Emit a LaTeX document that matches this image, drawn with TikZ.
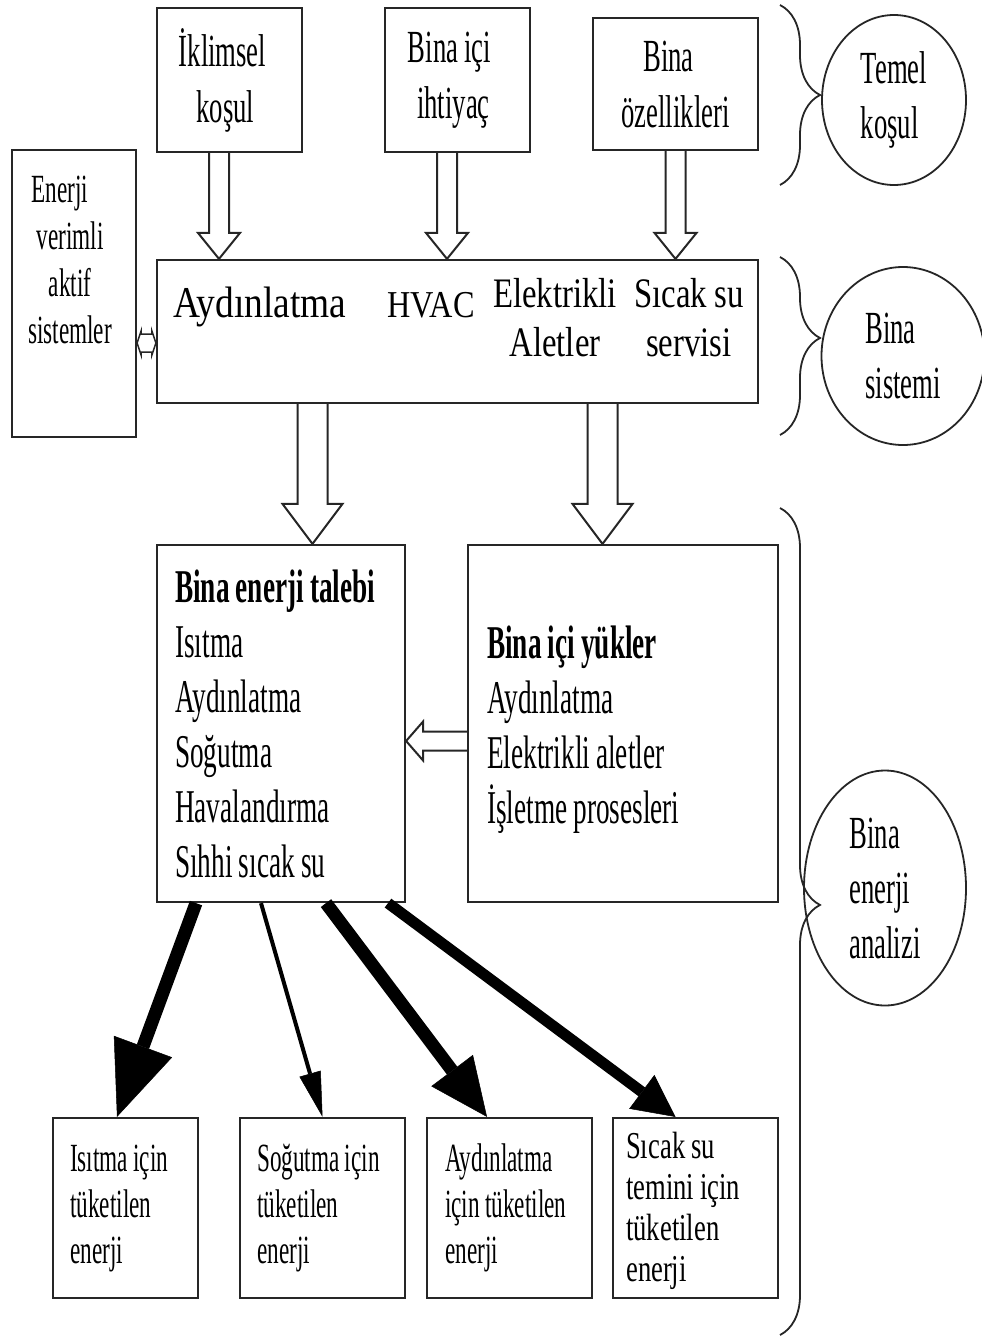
\documentclass[tikz,border=0pt]{standalone}
\usepackage{fontspec}
\setmainfont{Liberation Serif}
\newfontfamily\narrowfont[FakeStretch=0.58, WordSpace=0.9]{Liberation Serif}
\newfontfamily\midfont[FakeStretch=0.78, WordSpace=0.85]{Liberation Serif}
\newfontfamily\widefont[FakeStretch=0.85, WordSpace=0.9]{Liberation Serif}
\newfontfamily\boxfont[FakeStretch=0.7, WordSpace=0.9]{Liberation Serif}
\usetikzlibrary{arrows.meta, calc, shapes.geometric, decorations.pathreplacing}

\tikzset{
  box/.style={draw=black!85, line width=2.2pt, inner sep=0pt, align=center},
  toptext/.style={font=\narrowfont\fontsize{46}{56}\selectfont},
  lefttext/.style={anchor=west, inner sep=0pt, align=left},
  listtext/.style={lefttext, font=\narrowfont\fontsize{47}{55}\selectfont},
  endtext/.style={lefttext, font=\narrowfont\fontsize{40}{46}\selectfont},
  bubble/.style={ellipse, draw=black!85, line width=1.8pt, inner sep=0pt, align=left, font=\narrowfont\fontsize{46}{55}\selectfont},
  hollow/.style={draw=black!85, line width=2pt, fill=white},
  curly/.style={draw=black!85, line width=1.8pt, decorate, decoration={brace, amplitude=40pt, aspect=#1}},
  curly/.default=0.5
}

\newcommand{\hollowdown}[5]{\draw[hollow] let \p1=#1, \p2=#2 in
  (\x1-#3,\y1) -- (\x1-#3,\y2+#5) -- (\x1-#4,\y2+#5) -- (\x1,\y2)
  -- (\x1+#4,\y2+#5) -- (\x1+#3,\y2+#5) -- (\x1+#3,\y1);}
\newcommand{\hollowleft}[5]{\draw[hollow] let \p1=#1, \p2=#2 in
  (\x1,\y1+#3) -- (\x2+#5,\y1+#3) -- (\x2+#5,\y1+#4) -- (\x2,\y1)
  -- (\x2+#5,\y1-#4) -- (\x2+#5,\y1-#3) -- (\x1,\y1-#3);}

\begin{document}
\begin{tikzpicture}[x=1pt, y=-1pt]
\useasboundingbox (0,0) rectangle (982,1338);

\node[box, toptext, minimum width=145pt, minimum height=144pt] (klim) at (229.5,80) {İklimsel\hspace*{14pt}\\koşul\hspace*{8pt}};
\node[box, toptext, minimum width=145pt, minimum height=144pt] (ihtiyac) at (457.5,80) {Bina içi\hspace*{16pt}\\ihtiyaç\hspace*{8pt}};
\node[box, toptext, minimum width=165pt, minimum height=132pt] (ozellik) at (675.5,84) {Bina\hspace*{14pt}\\özellikleri};

\node[box, minimum width=124pt, minimum height=287pt] (ener) at (74,293.5) {};
\node[inner sep=0pt, align=center, font=\narrowfont\fontsize{40}{47}\selectfont] (enertext) at (70,260) {Enerji\hspace*{20pt}\\verimli\hspace*{8pt}\\aktif\\sistemler};

\node[box, minimum width=601pt, minimum height=143pt] (sys) at (457.5,331.5) {};
\node[anchor=base west, inner sep=0pt, font=\widefont\fontsize{44}{50}\selectfont] (aydsys) at (173,317) {Aydınlatma};
\node[anchor=base west, inner sep=0pt, font=\widefont\fontsize{38}{46}\selectfont] (hvac) at (387,317) {HVAC};
\node[inner sep=0pt, align=center, font=\midfont\fontsize{42}{49}\selectfont] (elek) at (555,318) {Elektrikli\\Aletler};
\node[inner sep=0pt, align=center, font=\midfont\fontsize{42}{49}\selectfont] (sicaksu) at (689,318) {Sıcak su\\servisi};

\node[box, minimum width=248pt, minimum height=357pt] (talep) at (281,723.5) {};
\node[listtext] (taleptext) at (175,724) {\textbf{Bina enerji talebi}\\Isıtma\\Aydınlatma\\Soğutma\\Havalandırma\\Sıhhi sıcak su};
\node[box, minimum width=310pt, minimum height=357pt] (yuk) at (623,723.5) {};
\node[listtext] (yuktext) at (487,730) {\textbf{Bina içi yükler}\\Aydınlatma\\Elektrikli aletler\\İşletme prosesleri};

\node[box, minimum width=145pt, minimum height=180pt] (isit) at (125.5,1208) {};
\node[endtext] (isittext) at (70,1208) {Isıtma için\\tüketilen\\enerji};
\node[box, minimum width=165pt, minimum height=180pt] (sog) at (322.5,1208) {};
\node[endtext] (sogtext) at (257,1208) {Soğutma için\\tüketilen\\enerji};
\node[box, minimum width=165pt, minimum height=180pt] (aydbox) at (509.5,1208) {};
\node[endtext] (aydtext) at (445,1208) {Aydınlatma\\için tüketilen\\enerji};
\node[box, minimum width=165pt, minimum height=180pt] (sicak) at (695.5,1208) {};
\node[lefttext, font=\boxfont\fontsize{38}{41}\selectfont] (sicaktext) at (626,1211) {Sıcak su\\temini için\\tüketilen\\enerji};

\node[bubble, minimum width=144pt, minimum height=170pt] (temel) at (894,100) {Temel\\koşul};
\node[bubble, minimum width=163pt, minimum height=178pt] (binasis) at (903,356) {Bina\hspace*{8pt}\\sistemi};
\node[bubble, minimum width=162pt, minimum height=235pt] (analiz) at (885,888) {Bina\\enerji\\analizi};

\coordinate (c1a) at (780,5);
\coordinate (c1b) at (780,185);
\coordinate (c2a) at (780,257);
\coordinate (c2b) at (780,435);
\coordinate (c3a) at (780,508);
\coordinate (c3b) at (780,1335);
\draw[curly] (c1a) -- (c1b);
\draw[curly=0.455] (c2a) -- (c2b);
\draw[curly=0.48] (c3a) -- (c3b);

\foreach \src/\dx in {klim/-10.5, ihtiyac/-10.5, ozellik/0}
  \hollowdown{($(\src.south)+(\dx,0)$)}{(sys.north)}{10pt}{21pt}{26pt};
\hollowdown{($(sys.south)+(-145,0)$)}{(talep.north)}{15pt}{30pt}{40pt}
\hollowdown{($(sys.south)+(145,0)$)}{(yuk.north)}{15pt}{30pt}{40pt}
\hollowleft{($(yuk.west)+(0,17.5)$)}{(talep.east)}{9.5pt}{19.5pt}{17pt}
\draw[hollow, line width=1.5pt] let \p1=($(ener.east)+(0,49.5)$), \p2=(sys.west) in
  (\x1,\y1) -- (\x1+4pt,\y1+12pt) -- (\x1+4pt,\y1+9pt) -- (\x2-4pt,\y1+9pt) -- (\x2-4pt,\y1+12pt) -- (\x2,\y1)
  -- (\x2-4pt,\y1-12pt) -- (\x2-4pt,\y1-9pt) -- (\x1+4pt,\y1-9pt) -- (\x1+4pt,\y1-12pt) -- cycle;

\draw[line width=13pt, -{Triangle[length=75pt, width=62pt, line width=0.5pt]}] ($(talep.south)+(-85,0)$) -- ($(isit.north)+(-8.5,0)$);
\draw[line width=4pt, -{Triangle[length=45pt, width=22pt, line width=0.5pt]}] ($(talep.south)+(-20,0)$) -- (sog.north);
\draw[line width=13pt, -{Triangle[length=58pt, width=52pt, line width=0.5pt]}] ($(talep.south)+(45,0)$) -- ($(aydbox.north)+(-22.5,0)$);
\draw[line width=11pt, -{Triangle[length=42pt, width=42pt, line width=0.5pt]}] ($(talep.south)+(107,0)$) -- ($(sicak.north)+(-20,0)$);
\end{tikzpicture}
\end{document}
